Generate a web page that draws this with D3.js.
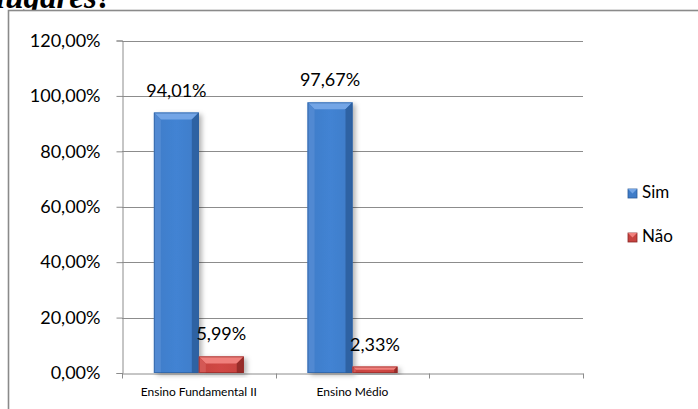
<!DOCTYPE html>
<html>
<head>
<meta charset="utf-8">
<script src="https://cdn.jsdelivr.net/npm/d3@7"></script>
<style>
  html, body { margin: 0; padding: 0; background: #fff; }
  svg { display: block; }
</style>
</head>
<body>
<svg id="chart" width="698" height="409"></svg>
<script>
// Survey answers per school level (share of respondents)
const categories = ["Ensino Fundamental II", "Ensino Médio", ""];
const seriesNames = ["Sim", "Não"];
const simValues = [0.9401, 0.9767, null];
const naoValues = [0.0599, 0.0233, null];
const yTicks = [0, 0.2, 0.4, 0.6, 0.8, 1.0, 1.2];

const palette = {
  "Sim": { body: "#3f7cc8", light: "#73a5e6", side: "#5189d2", dark: "#2e62a3", edge: "#2a5a98" },
  "Não": { body: "#c64340", light: "#f0807c", side: "#d45855", dark: "#972d2a", edge: "#8a2725" }
};

const svg = d3.select("#chart");
const ptBR = d3.formatLocale({ decimal: ",", thousands: ".", grouping: [3], currency: ["R$", ""] });
const pct = ptBR.format(".2%");

const x0 = d3.scaleBand().domain(categories).range([122, 583]).paddingInner(0).paddingOuter(0);
const x1 = d3.scaleBand().domain(seriesNames).range([0, x0.bandwidth()]).paddingInner(0).paddingOuter(0.71);
const y = d3.scaleLinear().domain([0, 1.2]).range([373, 40.5]);

const defs = svg.append("defs");
const shadow = defs.append("filter").attr("id", "barShadow")
  .attr("x", "-30%").attr("y", "-30%").attr("width", "160%").attr("height", "160%");
shadow.append("feDropShadow").attr("dx", 3).attr("dy", 2).attr("stdDeviation", 2.5)
  .attr("flood-color", "#000").attr("flood-opacity", 0.3);

seriesNames.forEach(s => {
  const g = defs.append("linearGradient").attr("id", "grad-" + s.replace(/[^A-Za-z]/g, ""))
    .attr("x1", "0").attr("x2", "1").attr("y1", "0").attr("y2", "0");
  g.append("stop").attr("offset", "0").attr("stop-color", palette[s].body);
  g.append("stop").attr("offset", "0.5").attr("stop-color", d3.color(palette[s].body).brighter(0.15));
  g.append("stop").attr("offset", "1").attr("stop-color", palette[s].body);
});

// Title fragment from the surrounding document (cut by the frame)
svg.append("text")
  .attr("x", -4).attr("y", 8)
  .attr("font-family", "Liberation Serif")
  .attr("font-weight", "bold").attr("font-style", "italic")
  .attr("font-size", 33).attr("fill", "#000")
  .text("lugares?");

// Chart frame
svg.append("rect")
  .attr("x", 8.5).attr("y", 10.5).attr("width", 720).attr("height", 420)
  .attr("fill", "#fff").attr("stroke", "#8a8a8a").attr("stroke-width", 1.6);

// Gridlines
svg.append("g").selectAll("line")
  .data(yTicks.filter(t => t > 0))
  .join("line")
  .attr("x1", 122).attr("x2", 583)
  .attr("y1", d => Math.round(y(d)) + 0.5).attr("y2", d => Math.round(y(d)) + 0.5)
  .attr("stroke", "#8c8c8c").attr("stroke-width", 1);

// Y axis
const yAxis = svg.append("g").attr("transform", "translate(122.5,0)")
  .call(d3.axisLeft(y).tickValues(yTicks).tickFormat(pct).tickSize(6).tickPadding(16));
yAxis.select(".domain").attr("stroke", "#8c8c8c");
yAxis.selectAll(".tick line").attr("stroke", "#8c8c8c");
yAxis.selectAll(".tick text")
  .attr("font-family", "Lato").attr("font-size", 18).attr("fill", "#000");

// X axis
const xAxis = svg.append("g").attr("transform", "translate(0," + (Math.round(y(0)) + 0.5) + ")")
  .call(d3.axisBottom(x0).tickSize(0).tickPadding(14));
xAxis.select(".domain").attr("stroke", "#8c8c8c");
xAxis.selectAll(".tick text")
  .attr("font-family", "Lato").attr("font-size", 12).attr("fill", "#000");
// category boundary ticks
const bounds = categories.map(c => x0(c)).concat([x0.range()[1]]);
xAxis.append("g").selectAll("line").data(bounds).join("line")
  .attr("x1", d => Math.round(d) + 0.5).attr("x2", d => Math.round(d) + 0.5)
  .attr("y1", 0).attr("y2", 5).attr("stroke", "#8c8c8c");

// Bars with a bevelled face
const rows = [];
categories.forEach((c, i) => {
  [["Sim", simValues[i]], ["Não", naoValues[i]]].forEach(([s, v]) => {
    if (v != null) rows.push({ cat: c, series: s, value: v });
  });
});

const barG = svg.append("g");
rows.forEach(d => {
  const bx = x0(d.cat) + x1(d.series);
  const bw = x1.bandwidth();
  const top = y(d.value);
  const bottom = y(0);
  const h = bottom - top;
  const b = Math.min(7, h / 2);
  const col = palette[d.series];
  const g = barG.append("g");
  g.append("rect").attr("x", bx).attr("y", top).attr("width", bw).attr("height", h)
    .attr("fill", "url(#grad-" + d.series.replace(/[^A-Za-z]/g, "") + ")")
    .attr("filter", "url(#barShadow)");
  // top bevel
  g.append("path").attr("d", `M${bx},${top}L${bx + bw},${top}L${bx + bw - b},${top + b}L${bx + b},${top + b}Z`)
    .attr("fill", col.light);
  // left bevel
  g.append("path").attr("d", `M${bx},${top}L${bx + b},${top + b}L${bx + b},${bottom}L${bx},${bottom}Z`)
    .attr("fill", col.side);
  // right bevel
  g.append("path").attr("d", `M${bx + bw},${top}L${bx + bw - b},${top + b}L${bx + bw - b},${bottom}L${bx + bw},${bottom}Z`)
    .attr("fill", col.dark);
  g.append("rect").attr("x", bx + 0.5).attr("y", top + 0.5).attr("width", bw - 1).attr("height", h - 1)
    .attr("fill", "none").attr("stroke", col.edge).attr("stroke-width", 1).attr("stroke-opacity", 0.6);

  // value label
  svg.append("text")
    .attr("x", bx + bw / 2).attr("y", top - 16)
    .attr("text-anchor", "middle")
    .attr("font-family", "Lato").attr("font-size", 18).attr("fill", "#000")
    .text(pct(d.value));
});

// Legend
const legend = svg.append("g");
seriesNames.forEach((s, i) => {
  const ly = 198 + i * 44;
  const col = palette[s];
  legend.append("rect").attr("x", 628).attr("y", ly - 9).attr("width", 9).attr("height", 9)
    .attr("fill", col.body).attr("stroke", col.edge).attr("stroke-width", 0.8);
  legend.append("path").attr("d", `M628,${ly - 9}L637,${ly - 9}L632.5,${ly - 4.5}Z`).attr("fill", col.light);
  legend.append("text").attr("x", 642).attr("y", ly)
    .attr("font-family", "Lato").attr("font-size", 17).attr("fill", "#000")
    .text(s);
});
</script>
</body>
</html>
